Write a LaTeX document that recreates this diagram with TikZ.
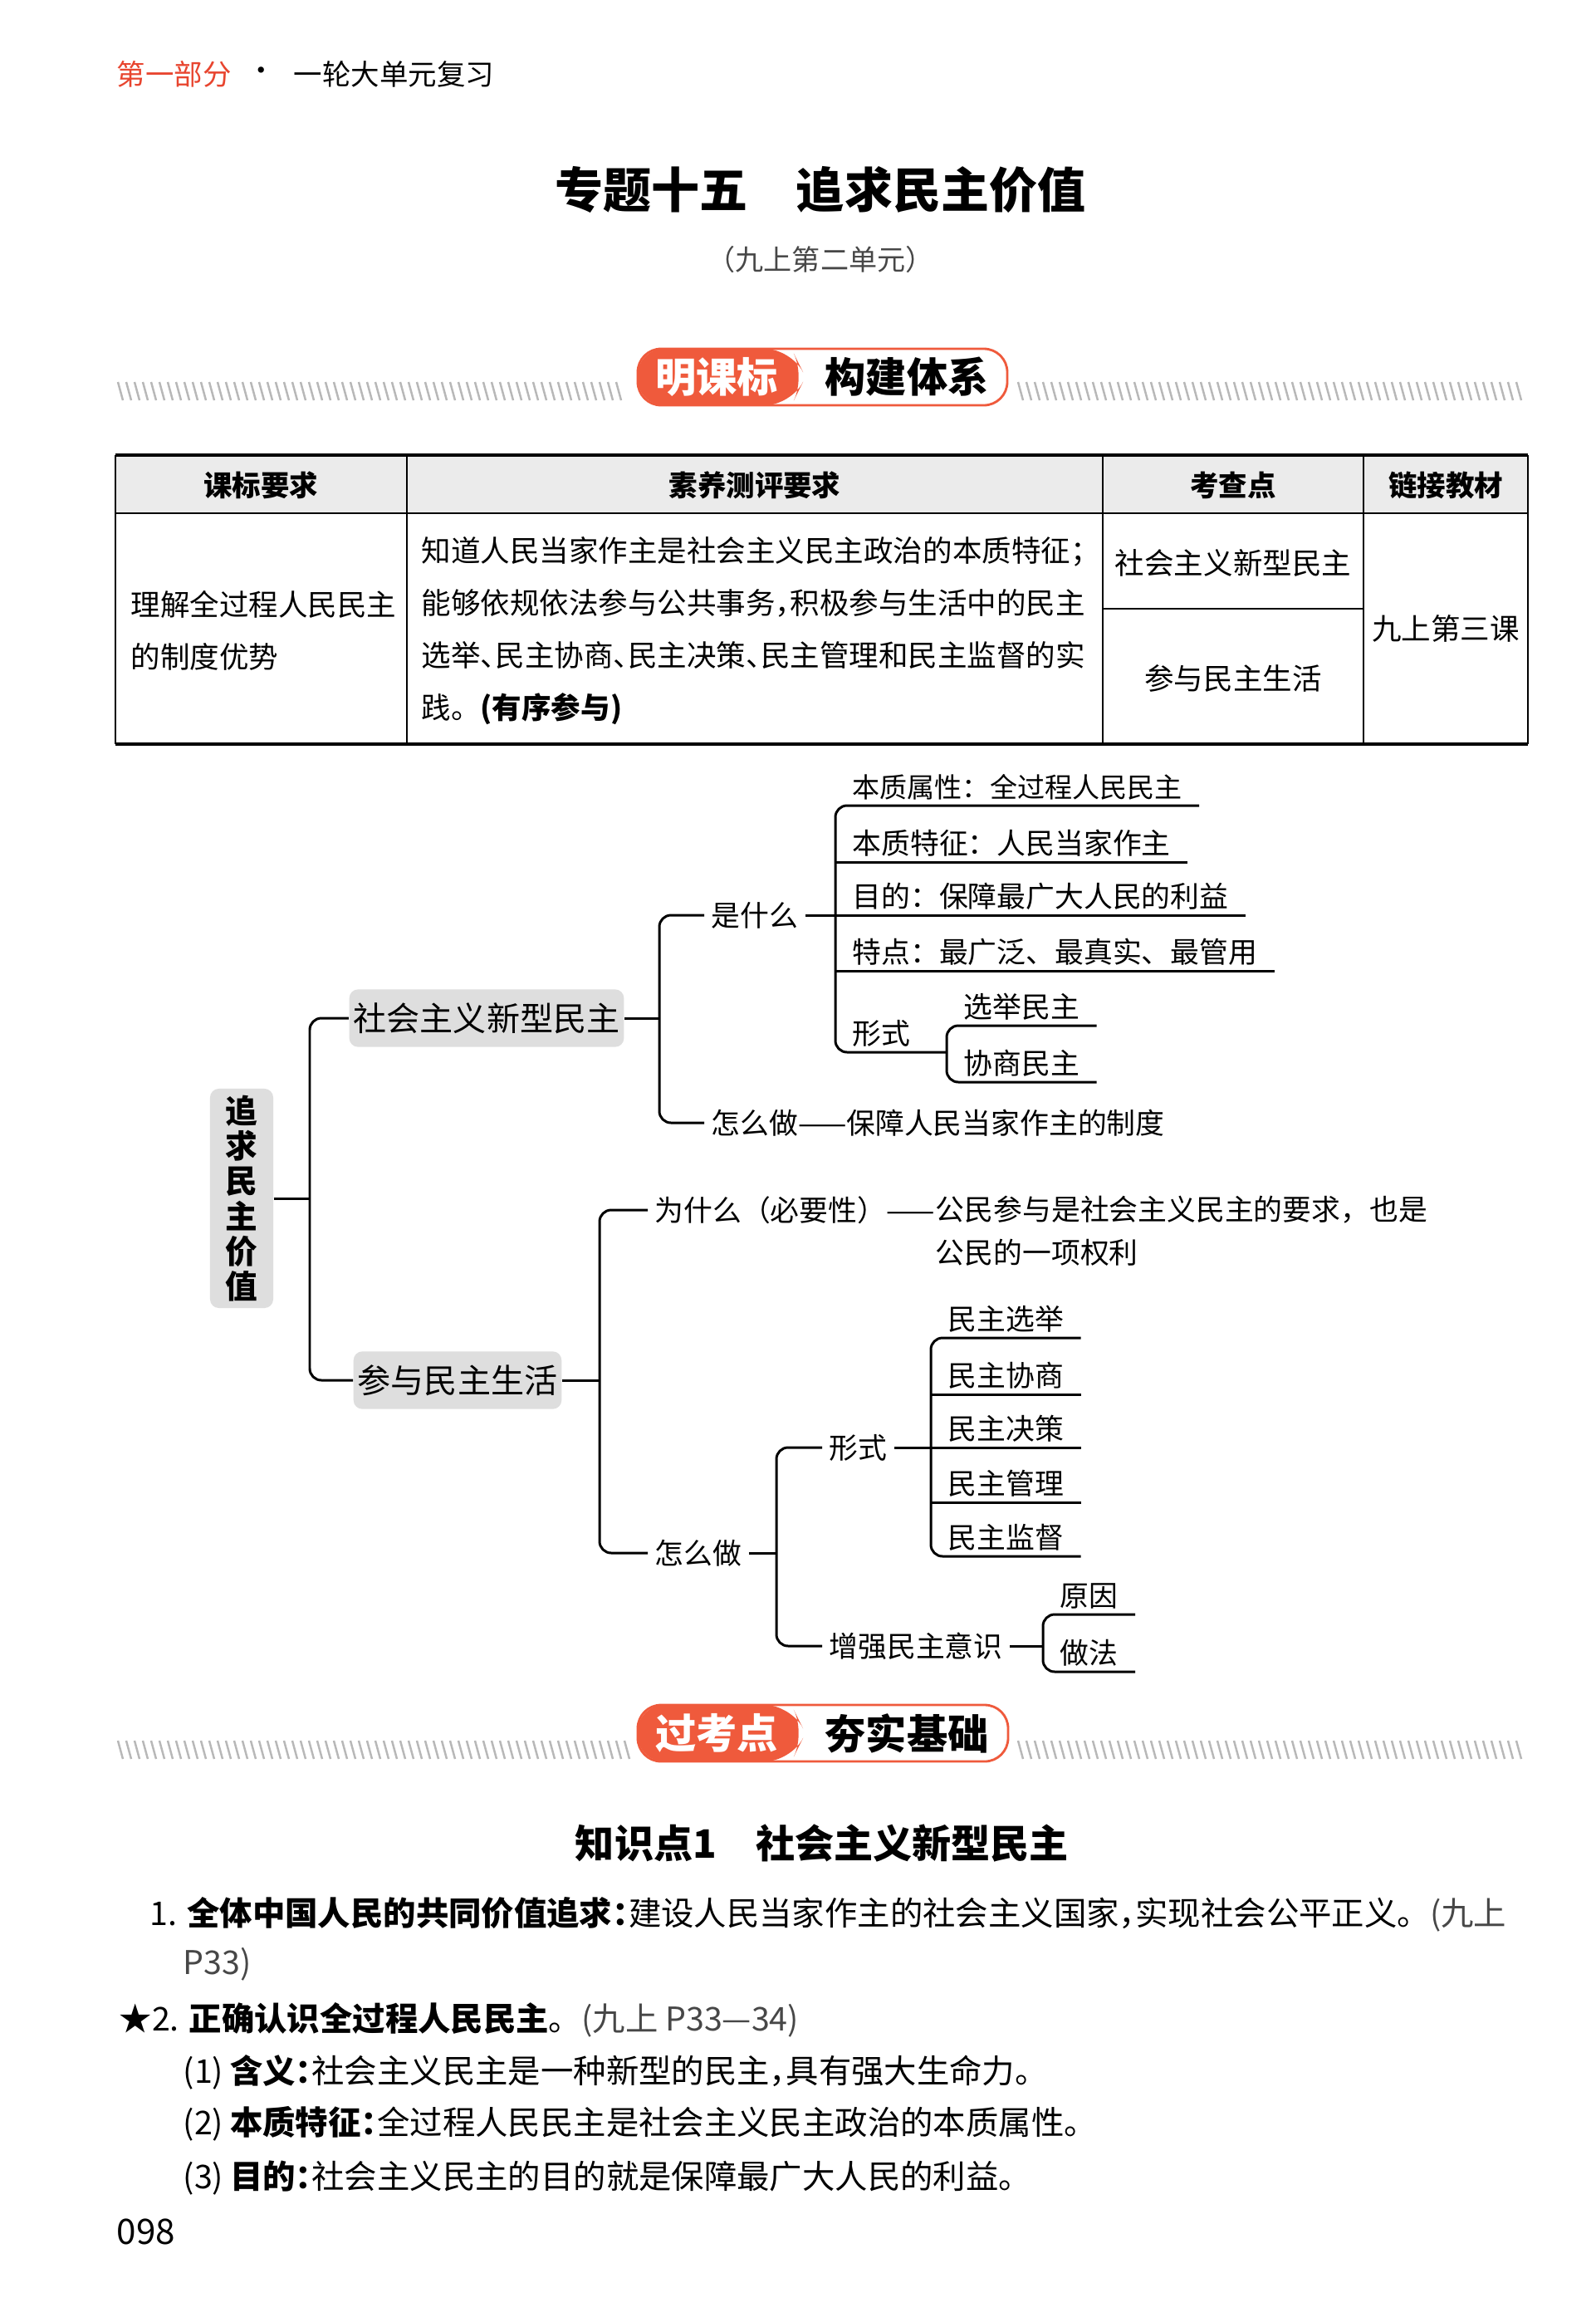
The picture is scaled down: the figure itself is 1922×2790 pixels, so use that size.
\documentclass[tikz,border=0pt]{standalone}
\usepackage{fontspec}
\setmainfont{Noto Sans CJK SC}
\usetikzlibrary{positioning}
\definecolor{bannerred}{HTML}{EF5A3C}
\definecolor{headred}{HTML}{E8452F}
\definecolor{boxgray}{HTML}{DEDEDE}
\definecolor{headgray}{HTML}{EBEBEB}
\definecolor{hatchgray}{HTML}{B8B8B8}
\colorlet{refgray}{black!72}
\newcommand{\hp}[1]{\makebox[0.5em][l]{#1}}

\begin{document}
\begin{tikzpicture}[
    x=0.01cm, y=-0.01cm,
    every node/.style={inner sep=0pt},
    txt/.style={font=\fontsize{9.9}{11}\selectfont},
    body/.style={font=\fontsize{11.2}{13}\selectfont, anchor=west},
    cell/.style={font=\fontsize{10.1}{17.9}\selectfont, align=left},
    headcell/.style={font=\fontsize{9.8}{11}\selectfont\bfseries},
    leaf/.style={txt, anchor=south west, inner xsep=0.2cm, inner ysep=0.06cm},
    midnode/.style={txt, inner xsep=0.08cm, inner ysep=0.06cm},
    graybox/.style={fill=boxgray, rounded corners=3pt,
                    font=\fontsize{11.4}{13}\selectfont,
                    inner xsep=0.05cm, inner ysep=0.16cm},
    br/.style={line width=0.85pt, rounded corners=4pt},
    tbl/.style={line width=0.5pt},
    tblthick/.style={line width=1.3pt},
    hatch/.style={hatchgray, line width=0.7pt},
    banner/.style={font=\fontsize{14}{16}\selectfont\bfseries},
]
\useasboundingbox (0,0) rectangle (1922,2790);
\fill[white] (0,0) rectangle (1922,2790);

% header and title
\node[font=\fontsize{9.8}{11}\selectfont, text=headred, anchor=west] (part) at (140,89) {第一部分};
\node[font=\fontsize{9.8}{11}\selectfont, right=0.18cm of part] (dot) {·};
\node[font=\fontsize{9.8}{11}\selectfont, right=0.2cm of dot] (unit) {一轮大单元复习};
\node[font=\fontsize{16.5}{18}\selectfont\bfseries] (title) at (988,228) {专题十五\hspace{1em}追求民主价值};
\node[font=\fontsize{9.7}{11}\selectfont, text=refgray] (sub) at (988,313) {（九上第二单元）};

% banner 1
\foreach \x in {142,152,...,742} \draw[hatch] (\x,460) -- (\x+6,482);
\foreach \x in {1226,1236,...,1832} \draw[hatch] (\x,460) -- (\x+6,482);
\draw[bannerred, line width=0.8pt, fill=white, rounded corners=8pt] (768,420) rectangle (1213,488);
\fill[bannerred, rounded corners=9pt] (953,420) -- (768,420) -- (768,488) -- (953,488) -- (970,454) -- cycle;
\node[banner, text=white] (mkb) at (863,454) {明课标};
\node[banner] (gjtx) at (1092,454) {构建体系};

% table
\fill[headgray] (139,548) rectangle (1840,618);
\draw[tblthick] (139,548) -- (1840,548);
\draw[tblthick] (139,896) -- (1840,896);
\draw[line width=0.8pt] (139,618) -- (1840,618);
\foreach \x in {139,490,1328,1642,1840} \draw[tbl] (\x,548) -- (\x,896);
\draw[tbl] (1328,733) -- (1642,733);

\node[headcell] (h1) at (314,584) {课标要求};
\node[headcell] (h2) at (909,584) {素养测评要求};
\node[headcell] (h3) at (1485,584) {考查点};
\node[headcell] (h4) at (1741,584) {链接教材};

\node[cell, anchor=west] (c1) at (157,759) {理解全过程人民民主\\的制度优势};
\node[cell, anchor=west] (c2) at (507,760) {知道人民当家作主是社会主义民主政治的本质特征；\\
  能够依规依法参与公共事务\hp{，}积极参与生活中的民主\\
  选举\hp{、}民主协商\hp{、}民主决策\hp{、}民主管理和民主监督的实\\
  践。\textbf{(有序参与)}};
\node[cell] (c3a) at (1485,678) {社会主义新型民主};
\node[cell] (c3b) at (1485,817) {参与民主生活};
\node[cell] (c4) at (1741,757) {九上第三课};

% mind map
\node[graybox, align=center, font=\fontsize{11}{12}\selectfont\bfseries,
      minimum width=0.76cm, inner ysep=0.08cm] (root) at (291,1443) {追\\求\\民\\主\\价\\值};
\node[graybox] (sx) at (586,1226) {社会主义新型民主};
\node[graybox] (cy) at (551,1662) {参与民主生活};

\node[midnode, anchor=west] (ssm) at (848,1102) {是什么};
\node[midnode, anchor=west] (zmz1) at (848,1352) {怎么做——保障人民当家作主的制度};

\node[leaf, font=\fontsize{9.4}{11}\selectfont] (l1) at (1006,970) {本质属性：全过程人民民主};
\node[leaf] (l2) at (1006,1038) {本质特征：人民当家作主};
\node[leaf] (l3) at (1006,1102) {目的：保障最广大人民的利益};
\node[leaf] (l4) at (1006,1169) {特点：最广泛、最真实、最管用};
\node[leaf] (xs1) at (1006,1267) {形式};
\node[leaf] (xj1) at (1140,1235) {选举民主};
\node[leaf] (xj2) at (1140,1303) {协商民主};

\node[midnode, anchor=west] (wsm) at (780,1457) {为什么（必要性）——};
\node[txt, anchor=north west, align=left, inner ysep=0.06cm,
      font=\fontsize{9.9}{14.8}\selectfont] (wsmr) at ([xshift=-0.08cm]wsm.north east) {公民参与是社会主义民主的要求，也是\\公民的一项权利};
\node[midnode, anchor=west] (zmz2) at (780,1870) {怎么做};
\node[midnode, anchor=west] (xs2) at (990,1743) {形式};
\node[midnode, anchor=west] (zq) at (990,1982) {增强民主意识};

\node[leaf] (m1) at (1121,1611) {民主选举};
\node[leaf] (m2) at (1121,1679) {民主协商};
\node[leaf] (m3) at (1121,1743) {民主决策};
\node[leaf] (m4) at (1121,1809) {民主管理};
\node[leaf] (m5) at (1121,1874) {民主监督};
\node[leaf] (yy) at (1256,1944) {原因};
\node[leaf] (zf) at (1256,2013) {做法};

\coordinate (b0) at (373,1443);
\coordinate (b1) at (794,1226);
\coordinate (b2) at (722,1662);
\coordinate (b3) at (935,1870);

\draw[br] (root.east) -- (b0);
\draw[br] (sx.west) -| (b0) |- (cy.west);
\draw[br] (sx.east) -- (b1);
\draw[br] (ssm.west) -| (b1) |- (zmz1.west);
\draw[br] (cy.east) -- (b2);
\draw[br] (wsm.west) -| (b2) |- (zmz2.west);
\draw[br] (zmz2.east) -- (b3);
\draw[br] (xs2.west) -| (b3) |- (zq.west);

\draw[br] (ssm.east) -- (ssm.east -| l3.south west);
\draw[br] (l1.south east) -- (l1.south west) -- (xs1.south west) -- (xs1.south west -| xj1.south west);
\foreach \n in {l2,l3,l4} \draw[br] (\n.south west) -- (\n.south east);
\draw[br] (xj1.south east) -- (xj1.south west) -- (xj2.south west) -- (xj2.south east);

\draw[br] (xs2.east) -- (xs2.east -| m3.south west);
\draw[br] (m1.south east) -- (m1.south west) -- (m5.south west) -- (m5.south east);
\foreach \n in {m2,m3,m4} \draw[br] (\n.south west) -- (\n.south east);
\draw[br] (zq.east) -- (zq.east -| yy.south west);
\draw[br] (yy.south east) -- (yy.south west) -- (zf.south west) -- (zf.south east);

% banner 2
\foreach \x in {142,152,...,752} \draw[hatch] (\x,2096) -- (\x+6,2118);
\foreach \x in {1226,1236,...,1832} \draw[hatch] (\x,2096) -- (\x+6,2118);
\draw[bannerred, line width=0.8pt, fill=white, rounded corners=8pt] (768,2053) rectangle (1214,2121);
\fill[bannerred, rounded corners=9pt] (953,2053) -- (768,2053) -- (768,2121) -- (953,2121) -- (970,2087) -- cycle;
\node[banner, text=white] (gkd) at (863,2087) {过考点};
\node[banner] (hsjc) at (1092,2087) {夯实基础};

% knowledge point
\node[font=\fontsize{13.4}{15}\selectfont\bfseries] (zsd) at (990,2220) {知识点1\hspace{1em}社会主义新型民主};
\node[body] (p1) at (180,2305) {1.\hspace{0.3em}\textbf{全体中国人民的共同价值追求\hp{：}}建设人民当家作主的社会主义国家\hp{，}实现社会公平正义。{\color{refgray}(九上}};
\node[body] (p1b) at (220,2365) {{\color{refgray}P33)}};
\node[body] (p2) at (143,2432) {★2.\hspace{0.3em}\textbf{正确认识全过程人民民主}。{\color{refgray}(九上 P33—34)}};
\node[body] (p3) at (220,2495) {(1)\hspace{0.2em}\textbf{含义\hp{：}}社会主义民主是一种新型的民主\hp{，}具有强大生命力。};
\node[body] (p4) at (220,2557) {(2)\hspace{0.2em}\textbf{本质特征\hp{：}}全过程人民民主是社会主义民主政治的本质属性。};
\node[body] (p5) at (220,2622) {(3)\hspace{0.2em}\textbf{目的\hp{：}}社会主义民主的目的就是保障最广大人民的利益。};
\node[font=\fontsize{12}{14}\selectfont, anchor=west] (pg) at (140,2687) {098};

\end{tikzpicture}
\end{document}
